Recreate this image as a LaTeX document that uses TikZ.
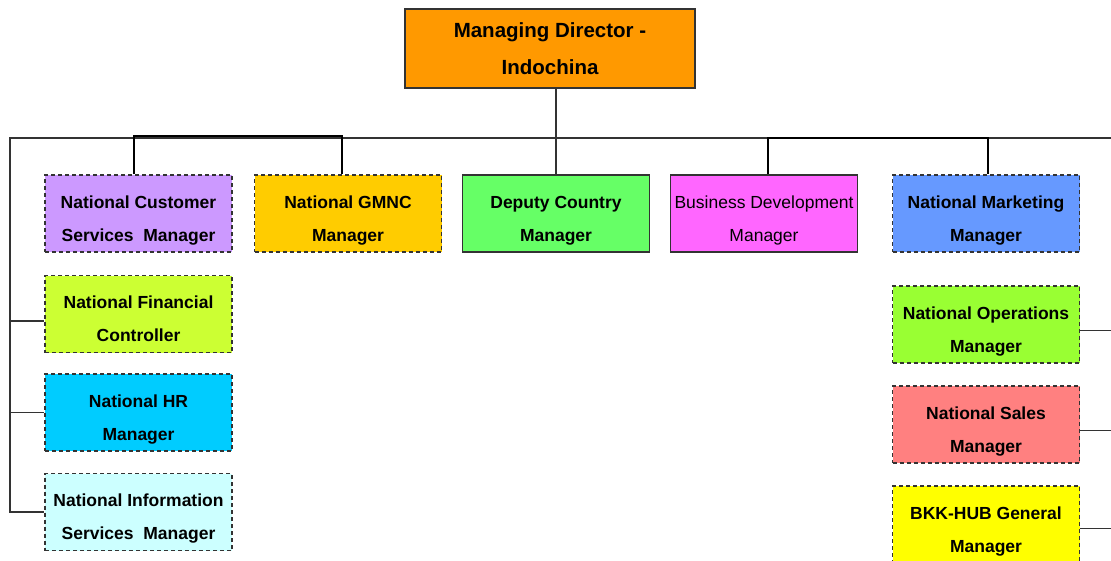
\documentclass[tikz,border=0pt]{standalone}
\usepackage{fontspec}
\setmainfont{Liberation Sans}
\definecolor{cOrange}{HTML}{FF9900}
\definecolor{cLav}{HTML}{CC99FF}
\definecolor{cGold}{HTML}{FFCC00}
\definecolor{cGreen}{HTML}{66FF66}
\definecolor{cPink}{HTML}{FF66FF}
\definecolor{cBlue}{HTML}{6699FF}
\definecolor{cLime}{HTML}{CCFF33}
\definecolor{cSky}{HTML}{00CCFF}
\definecolor{cIce}{HTML}{CCFFFF}
\definecolor{cOps}{HTML}{99FF33}
\definecolor{cSalmon}{HTML}{FF8080}
\definecolor{cYellow}{HTML}{FFFF00}
\definecolor{cLine}{HTML}{333333}
\begin{document}
\begin{tikzpicture}[x=1pt,y=-1pt,
  orgbox/.style={draw=cLine, line width=1.2pt, rectangle, inner sep=0pt, align=center,
    minimum width=187, minimum height=77, text=black,
    text height=55pt, text depth=0pt,
    font=\bfseries\fontsize{17.5}{33}\selectfont},
  dbox/.style={orgbox, dash pattern=on 4pt off 3pt},
  link/.style={draw=cLine, line width=1.2pt},
  thicklink/.style={draw=black, line width=2pt}]
\useasboundingbox (0,0) rectangle (1111,560);
\fill[white] (0,0) rectangle (1111,560);
% top
\node[draw=cLine, rectangle, inner sep=0pt, align=center, text=black,
  fill=cOrange, minimum width=290, minimum height=79, line width=1.5pt,
  font=\bfseries\fontsize{20.5}{37}\selectfont] (md) at (550,48.5) {Managing Director -\\Indochina};
% first row
\node[dbox, fill=cLav] (cust) at (138.5,213.5) {National Customer\\Services\ \ Manager};
\node[dbox, fill=cGold] (gmnc) at (348,213.5) {National GMNC\\Manager};
\node[orgbox, fill=cGreen] (dep) at (556,213.5) {Deputy Country\\Manager};
\node[orgbox, fill=cPink, font=\fontsize{17.5}{33}\selectfont] (bd) at (764,213.5) {Business Development\\Manager};
\node[dbox, fill=cBlue] (mkt) at (986,213.5) {National Marketing\\Manager};
% left column
\node[dbox, fill=cLime] (fin) at (138.5,314) {National Financial\\Controller};
\node[dbox, fill=cSky] (hr) at (138.5,412.5) {National HR\\Manager};
\node[dbox, fill=cIce] (info) at (138.5,512) {National Information\\Services\ \ Manager};
% right column
\node[dbox, fill=cOps] (ops) at (986,324.5) {National Operations\\Manager};
\node[dbox, fill=cSalmon] (sales) at (986,424.5) {National Sales\\Manager};
\node[dbox, fill=cYellow] (bkk) at (986,524.5) {BKK-HUB General\\Manager};
% coordinates
\coordinate (lt) at (10,138);
\coordinate (rt) at (1115,138);
\coordinate (re) at (1115,330);
% connectors
\draw[link] (md.south -| dep.north) -- (dep.north);
\draw[link] (rt) -- (lt) -- (lt |- info.west) -- (info.west);
\draw[link] (lt |- hr.west) -- (hr.west);
\draw[link] ([yshift=-7pt]fin.west -| lt) -- ([yshift=-7pt]fin.west);
\draw[thicklink] ([xshift=-5pt]cust.north) -- ++(0,-38) -| ([xshift=-6pt]gmnc.north);
\draw[thicklink] ([xshift=4pt]bd.north) -- ++(0,-36) -| ([xshift=2pt]mkt.north);
\draw[link] ([yshift=-6pt]ops.east) -- ([yshift=-6pt]ops.east -| re);
\draw[link] ([yshift=-6pt]sales.east) -- ([yshift=-6pt]sales.east -| re);
\draw[link] ([yshift=-4pt]bkk.east) -- ([yshift=-4pt]bkk.east -| re);
\end{tikzpicture}
\end{document}
